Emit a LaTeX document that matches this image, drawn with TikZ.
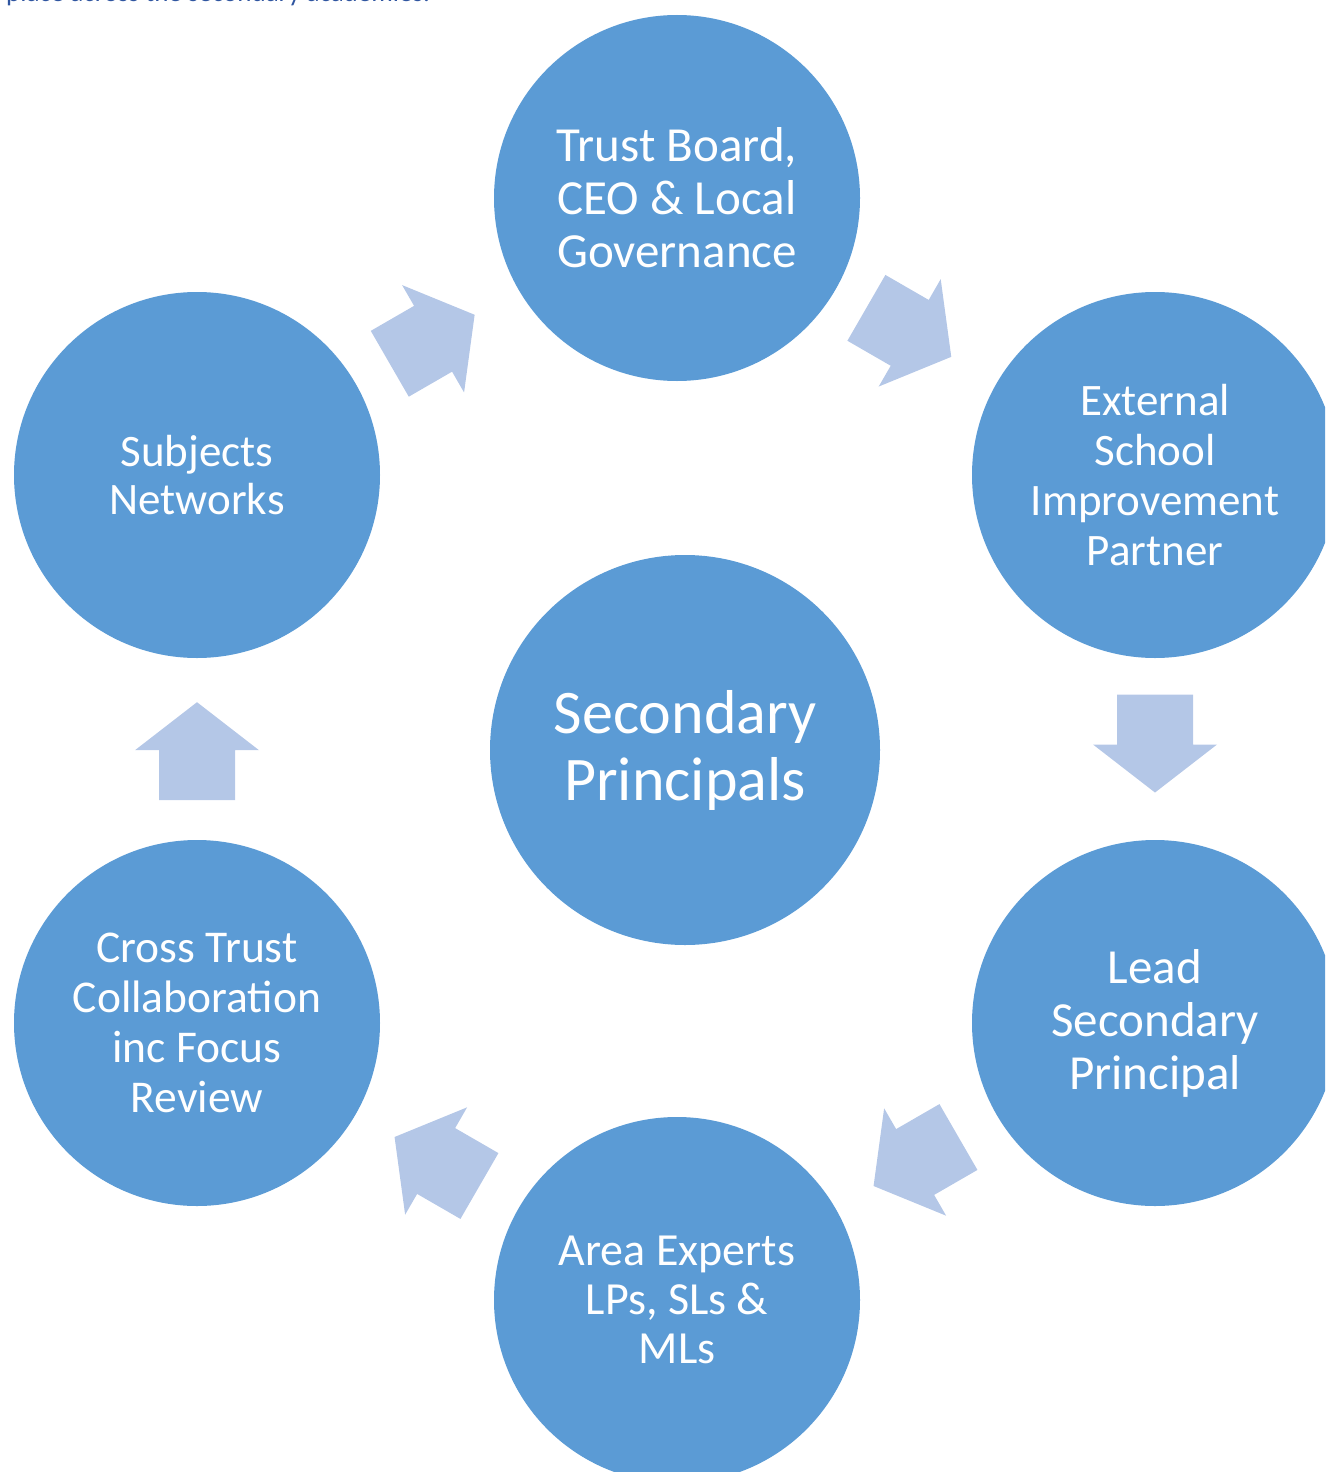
\documentclass[tikz,border=0pt]{standalone}
\usepackage{fontspec}
\setmainfont{Carlito}
\usetikzlibrary{calc}
\definecolor{circfill}{HTML}{5B9BD5}
\definecolor{arrowfill}{HTML}{B4C7E7}
\definecolor{headtext}{HTML}{2F55A0}
\tikzset{
  hub/.style={circle, fill=circfill, minimum size=366pt, inner sep=0pt,
    text=white, align=center},
  bigtext/.style={font=\fontsize{62}{67}\selectfont},
  blockarrow/.pic={
    \fill[arrowfill] (-49,-38) -- (1,-38) -- (1,-62) -- (49,0) -- (1,62)
      -- (1,38) -- (-49,38) -- cycle;
  }
}
\begin{document}
\begin{tikzpicture}[x=1pt, y=-1pt]
  \useasboundingbox (0,0) rectangle (1325,1472);
  \clip (0,0) rectangle (1325,1472);

  % tail of the preceding paragraph
  \node[anchor=base west, inner sep=0pt, text=headtext,
    font=\fontsize{27}{32}\selectfont] (lead-in) at (6,1.5)
    {place across the secondary academies.};

  % the cycle of support around the principals
  \node[hub, font=\fontsize{49}{53}\selectfont] (top) at (677,198)
    {Trust Board,\\CEO \& Local\\Governance};
  \node[hub, font=\fontsize{45}{48}\selectfont] (sub) at (197,475)
    {Subjects\\Networks};
  \node[hub, font=\fontsize{45}{50}\selectfont] (ext) at (1155,475)
    {External\\School\\Improvement\\Partner};
  \node[hub, minimum size=390pt, bigtext] (ctr) at (685,750)
    {Secondary\\Principals};
  \node[hub, font=\fontsize{49}{53}\selectfont] (lsp) at (1155,1023)
    {Lead\\Secondary\\Principal};
  \node[hub, font=\fontsize{46}{49}\selectfont] (area) at (677,1300)
    {Area Experts\\LPs, SLs \&\\MLs};
  \node[hub, font=\fontsize{45.5}{50}\selectfont] (cross) at (197,1023)
    {Cross Trust\\Collaboration\\inc Focus\\Review};

  % block arrows between neighbouring circles
  \pic[rotate=30]  at ($(sub)!0.49!(top)$)    {blockarrow};
  \pic[rotate=-30] at ($(top)!0.485!(ext)$)   {blockarrow};
  \pic[rotate=-90] at ($(ext)!0.49!(lsp)$)    {blockarrow};
  \pic[rotate=210] at ($(lsp)!0.50!(area)$)   {blockarrow};
  \pic[rotate=150] at ($(area)!0.50!(cross)$) {blockarrow};
  \pic[rotate=90]  at ($(cross)!0.496!(sub)$) {blockarrow};
\end{tikzpicture}
\end{document}
